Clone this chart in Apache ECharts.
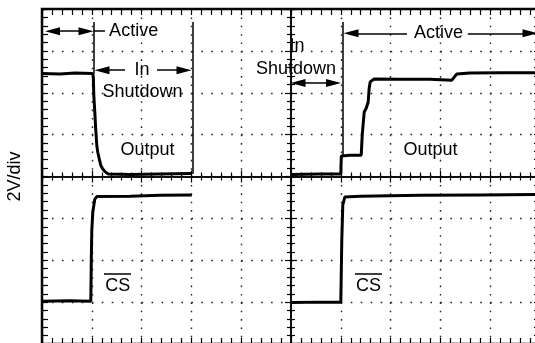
<!DOCTYPE html>
<html>
<head>
<meta charset="utf-8">
<script src="https://cdn.jsdelivr.net/npm/echarts@6/dist/echarts.min.js"></script>
<style>
html, body { margin: 0; padding: 0; background: #fff; }
#chart { width: 535px; height: 343px; }
</style>
</head>
<body>
<div id="chart"></div>
<script>
// 横轴: 时间(格), 纵轴: 电压(格, 2V/div), 屏幕中心为 0
// 关断过程: 输出
const outputOff = [
    [-5.00, 2.46], [-4.64, 2.45], [-4.34, 2.47], [-3.99, 2.46], [-3.97, 2.40],
    [-3.96, 1.95], [-3.94, 1.54], [-3.92, 1.11], [-3.90, 0.75], [-3.88, 0.58],
    [-3.85, 0.42], [-3.82, 0.27], [-3.78, 0.18], [-3.73, 0.11], [-3.67, 0.06],
    [-3.23, 0.05], [-2.63, 0.06], [-1.99, 0.07]
];
// 关断过程: CS
const csOff = [
    [-5.00, -2.98], [-4.44, -2.97], [-4.02, -2.98], [-4.01, -1.99], [-4.00, -1.28],
    [-3.98, -0.85], [-3.94, -0.54], [-3.90, -0.48], [-3.23, -0.47], [-2.63, -0.45],
    [-1.99, -0.44]
];
// 唤醒过程: 输出
const outputOn = [
    [0.00, 0.05], [0.58, 0.06], [1.00, 0.06], [1.01, 0.49], [1.18, 0.51],
    [1.41, 0.51], [1.43, 0.99], [1.47, 1.54], [1.51, 1.63], [1.55, 1.78],
    [1.57, 2.11], [1.59, 2.26], [1.67, 2.33], [2.19, 2.32], [2.79, 2.32],
    [3.23, 2.30], [3.33, 2.45], [3.59, 2.47], [4.20, 2.48], [5.00, 2.48]
];
// 唤醒过程: CS
const csOn = [
    [0.00, -3.01], [0.58, -3.00], [1.00, -3.00], [1.02, -1.52], [1.04, -0.68],
    [1.08, -0.49], [1.39, -0.47], [2.59, -0.45], [3.80, -0.44], [5.00, -0.43]
];

// 文字标注 [文字, x, y]
const labels = [
    ['Active', -3.16, 3.47],
    ['In', -2.99, 2.54],
    ['Shutdown', -2.98, 2.02],
    ['Output', -2.88, 0.63],
    ['In', 0.12, 3.11],
    ['Shutdown', 0.10, 2.57],
    ['Active', 2.96, 3.42],
    ['Output', 2.80, 0.63],
    ['CS', -3.48, -2.61],
    ['CS', 1.556, -2.61]
];
// 箭头 [x起点, x终点, y, 起点箭头, 终点箭头]
const arrows = [
    [-4.94, -3.966, 3.47, true, true],
    [-3.966, -3.735, 3.47, false, false],
    [-3.333, -3.946, 2.54, false, true],
    [-2.69, -1.998, 2.54, false, true],
    [-0.01, 1.004, 2.23, true, true],
    [2.33, 1.054, 3.42, false, true],
    [3.55, 4.95, 3.42, false, true]
];
// 竖直标记线 [x, y上, y下]
const markers = [
    [-3.96, 3.69, 2.45],
    [-1.98, 3.69, 0.06],
    [1.04, 3.69, 0.51]
];
// CS 上划线 [x1, x2, y]
const overlines = [
    [-3.755, -3.213, -2.33],
    [1.285, 1.827, -2.33]
];

const FONT = "'Liberation Sans', Arial, Helvetica, sans-serif";
const HEAD = 7.5 / 49.8; // 箭头半长(格)

function tickAxis(extra) {
    return Object.assign({
        type: 'value',
        axisLabel: { show: false },
        axisLine: { show: false, onZero: false },
        axisTick: { show: true, inside: true, length: 6, lineStyle: { color: '#000', width: 1.2 } },
        minorTick: { show: true, splitNumber: 5, length: 6, lineStyle: { color: '#000', width: 1.2 } },
        splitLine: { show: false }
    }, extra);
}

function centerAxis(inside) {
    return {
        axisLine: { show: true, onZero: true, onZeroAxisIndex: 0, lineStyle: { color: '#000', width: 1.5 } },
        axisTick: { show: true, inside: inside, length: 6, lineStyle: { color: '#000', width: 1.2 } },
        minorTick: { show: true, splitNumber: 5, length: 4, lineStyle: { color: '#000', width: 1.2 } }
    };
}

const xRange = { min: -5, max: 5, interval: 1 };
const yRange = { min: -4, max: 4, interval: 1 };

let arrowData = arrows.map(a => {
    let dir = a[1] > a[0] ? 1 : -1;
    return [
        { coord: [a[3] ? a[0] + dir * HEAD : a[0], a[2]], symbol: a[3] ? 'triangle' : 'none' },
        { coord: [a[4] ? a[1] - dir * HEAD : a[1], a[2]], symbol: a[4] ? 'triangle' : 'none' }
    ];
});
let markerData = markers.map(m => [
    { coord: [m[0], m[1]], symbol: 'none' },
    { coord: [m[0], m[2]], symbol: 'none' }
]);
let overData = overlines.map(o => [
    { coord: [o[0], o[2]], symbol: 'none' },
    { coord: [o[1], o[2]], symbol: 'none' }
]);

const traceStyle = { color: '#000', width: 3 };

const chart = echarts.init(document.querySelector('#chart'), null, { renderer: 'canvas' });
chart.setOption({
    animation: false,
    backgroundColor: '#fff',
    textStyle: { fontFamily: FONT },
    grid: {
        left: 42, top: 9, width: 498, height: 335,
        show: true, borderColor: '#000', borderWidth: 2.5,
        outerBoundsMode: 'none'
    },
    xAxis: [
        tickAxis(Object.assign({ position: 'top',
            splitLine: { show: true, lineStyle: { color: '#222', width: 1.4, type: [1.6, 6.78] } }
        }, xRange)),
        tickAxis(Object.assign({ position: 'bottom' }, xRange)),
        tickAxis(Object.assign({ position: 'bottom' }, xRange, centerAxis(true))),
        tickAxis(Object.assign({ position: 'bottom' }, xRange, centerAxis(false)))
    ],
    yAxis: [
        tickAxis(Object.assign({ position: 'left',
            name: '2V/div', nameLocation: 'middle', nameGap: 18, nameRotate: 90,
            nameTextStyle: { color: '#000', fontSize: 18, fontFamily: FONT },
            splitLine: { show: true, lineStyle: { color: '#222', width: 1.4, type: [1.6, 8.36] } }
        }, yRange)),
        tickAxis(Object.assign({ position: 'right' }, yRange)),
        tickAxis(Object.assign({ position: 'left' }, yRange, centerAxis(true))),
        tickAxis(Object.assign({ position: 'left' }, yRange, centerAxis(false)))
    ],
    series: [
        {
            name: 'Output (shutdown)',
            type: 'line',
            data: outputOff,
            showSymbol: false,
            lineStyle: traceStyle,
            z: 5,
            markLine: {
                silent: true,
                symbolSize: [8, 15],
                label: { show: false },
                lineStyle: { color: '#000', width: 1.5, type: 'solid' },
                itemStyle: { color: '#000' },
                data: arrowData.concat(markerData, overData)
            },
            markPoint: {
                silent: true,
                symbol: 'circle',
                symbolSize: 0,
                label: {
                    show: true,
                    position: 'inside',
                    formatter: '{b}',
                    color: '#000',
                    fontSize: 18,
                    fontFamily: FONT
                },
                data: labels.map(l => ({ name: l[0], coord: [l[1], l[2]] }))
            }
        },
        { name: 'CS (shutdown)', type: 'line', data: csOff, showSymbol: false, lineStyle: traceStyle, z: 5 },
        { name: 'Output (wake)', type: 'line', data: outputOn, showSymbol: false, lineStyle: traceStyle, z: 5 },
        { name: 'CS (wake)', type: 'line', data: csOn, showSymbol: false, lineStyle: traceStyle, z: 5 }
    ]
});
</script>
</body>
</html>
